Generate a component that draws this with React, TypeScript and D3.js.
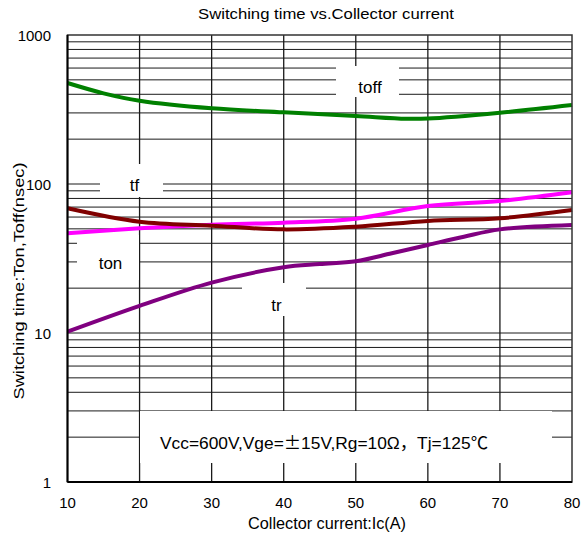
import React from "react";
import * as d3 from "d3";

const xTicks = [10, 20, 30, 40, 50, 60, 70, 80];
const yTicks = [1, 10, 100, 1000];
const yTickLabels = ["1", "10", "100", "1000"];

const toffData: [number, number][] = [
  [10, 476], [15, 406], [20, 362], [30, 322], [40, 303], [50, 286], [57, 274], [60, 275], [70, 301], [80, 339],
];
const tfData: [number, number][] = [
  [10, 46.7], [20, 50.4], [30, 53.3], [40, 55], [50, 58.5], [60, 71.2], [70, 76.9], [80, 87.9],
];
const tonData: [number, number][] = [
  [10, 68.7], [20, 55.8], [30, 52.5], [40, 49.6], [50, 51.7], [60, 56.5], [70, 58.9], [80, 66.9],
];
const trData: [number, number][] = [
  [10, 10.2], [20, 15.2], [30, 21.8], [40, 27.6], [45, 29], [50, 30.3], [55, 34.3], [60, 39], [65, 44.3], [70, 49.6], [80, 53.1],
];

const series = [
  { name: "toff", data: toffData, color: "#008000" },
  { name: "tf", data: tfData, color: "#ff00ff" },
  { name: "ton", data: tonData, color: "#800000" },
  { name: "tr", data: trData, color: "#800080" },
];

const FONT = "'Liberation Sans', Arial, sans-serif";
const CJK = "'Noto Sans CJK SC', sans-serif";

export default function App() {
  const x = d3.scaleLinear().domain([10, 80]).range([67.5, 572]);
  const y = d3.scaleLog().domain([1, 1000]).range([482, 35]);

  const minor: number[] = [];
  for (let k = 0; k < 3; k++) {
    for (let m = 2; m <= 9; m++) minor.push(m * Math.pow(10, k));
  }
  minor.push(10, 100);

  const line = d3
    .line<[number, number]>()
    .x((d) => x(d[0]))
    .y((d) => y(d[1]))
    .curve(d3.curveCatmullRom.alpha(0.5));

  const boxes = [
    { x0: 336, x1: 399, y0: 66, y1: 97 },
    { x0: 100, x1: 163, y0: 164, y1: 197 },
    { x0: 77, x1: 139, y0: 235, y1: 280 },
    { x0: 242, x1: 306, y0: 283, y1: 316 },
    { x0: 140, x1: 552, y0: 411, y1: 463 },
  ];

  return (
    <svg
      width={581}
      height={541}
      style={{ position: "absolute", left: 0, top: 0, background: "#fff" }}
      fontFamily={FONT}
    >
      <rect x={0} y={0} width={581} height={541} fill="#fff" />
      {minor.map((v, i) => (
        <line key={"h" + i} x1={x(10)} x2={x(80)} y1={y(v)} y2={y(v)} stroke="#1a1a1a" strokeWidth={1} />
      ))}
      {xTicks.slice(1, -1).map((t) => (
        <line key={"v" + t} x1={x(t)} x2={x(t)} y1={y(1000)} y2={y(1)} stroke="#1a1a1a" strokeWidth={1.3} />
      ))}
      {boxes.map((b, i) => (
        <rect key={"b" + i} x={b.x0} y={b.y0} width={b.x1 - b.x0} height={b.y1 - b.y0} fill="#fff" />
      ))}
      {series.map((s) => (
        <path key={s.name} d={line(s.data) || ""} fill="none" stroke={s.color} strokeWidth={4} />
      ))}
      <rect x={x(10)} y={y(1000)} width={x(80) - x(10)} height={y(1) - y(1000)} fill="none" stroke="#333" strokeWidth={1.5} />
      <line x1={x(10)} x2={x(80)} y1={y(1)} y2={y(1)} stroke="#000" strokeWidth={2} />
      <line x1={x(10)} x2={x(10)} y1={y(1000)} y2={y(1)} stroke="#000" strokeWidth={2} />

      <text x={370} y={92.5} fontSize={17} textAnchor="middle" fill="#000">toff</text>
      <text x={134.5} y={190.5} fontSize={17} textAnchor="middle" fill="#000">tf</text>
      <text x={110.5} y={269} fontSize={17} textAnchor="middle" fill="#000">ton</text>
      <text x={276.5} y={310.5} fontSize={17} textAnchor="middle" fill="#000">tr</text>
      <text x={160} y={449} fontSize={17} fill="#000" textLength={328} lengthAdjust="spacingAndGlyphs">
        Vcc=600V,Vge=<tspan fontFamily={CJK}>±</tspan>15V,Rg=10Ω<tspan fontFamily={CJK}>，</tspan>Tj=125<tspan fontFamily={CJK}>℃</tspan>
      </text>

      {yTicks.map((t, i) => (
        <text key={"yt" + t} x={51} y={y(t) + 6} fontSize={15} textAnchor="end" fill="#000">
          {yTickLabels[i]}
        </text>
      ))}
      {xTicks.map((t) => (
        <text key={"xt" + t} x={x(t)} y={508} fontSize={15} textAnchor="middle" fill="#000">
          {t}
        </text>
      ))}

      <text x={198} y={19} fontSize={15} fill="#000" textLength={256} lengthAdjust="spacingAndGlyphs">
        Switching time vs.Collector current
      </text>
      <text x={248} y={529} fontSize={16} fill="#000" textLength={158} lengthAdjust="spacingAndGlyphs">
        Collector current:Ic(A)
      </text>
      <text
        transform="translate(24,281) rotate(-90)"
        fontSize={15.5}
        textAnchor="middle"
        fill="#000"
        textLength={237}
        lengthAdjust="spacingAndGlyphs"
      >
        Switching time:Ton,Toff(nsec)
      </text>
    </svg>
  );
}
